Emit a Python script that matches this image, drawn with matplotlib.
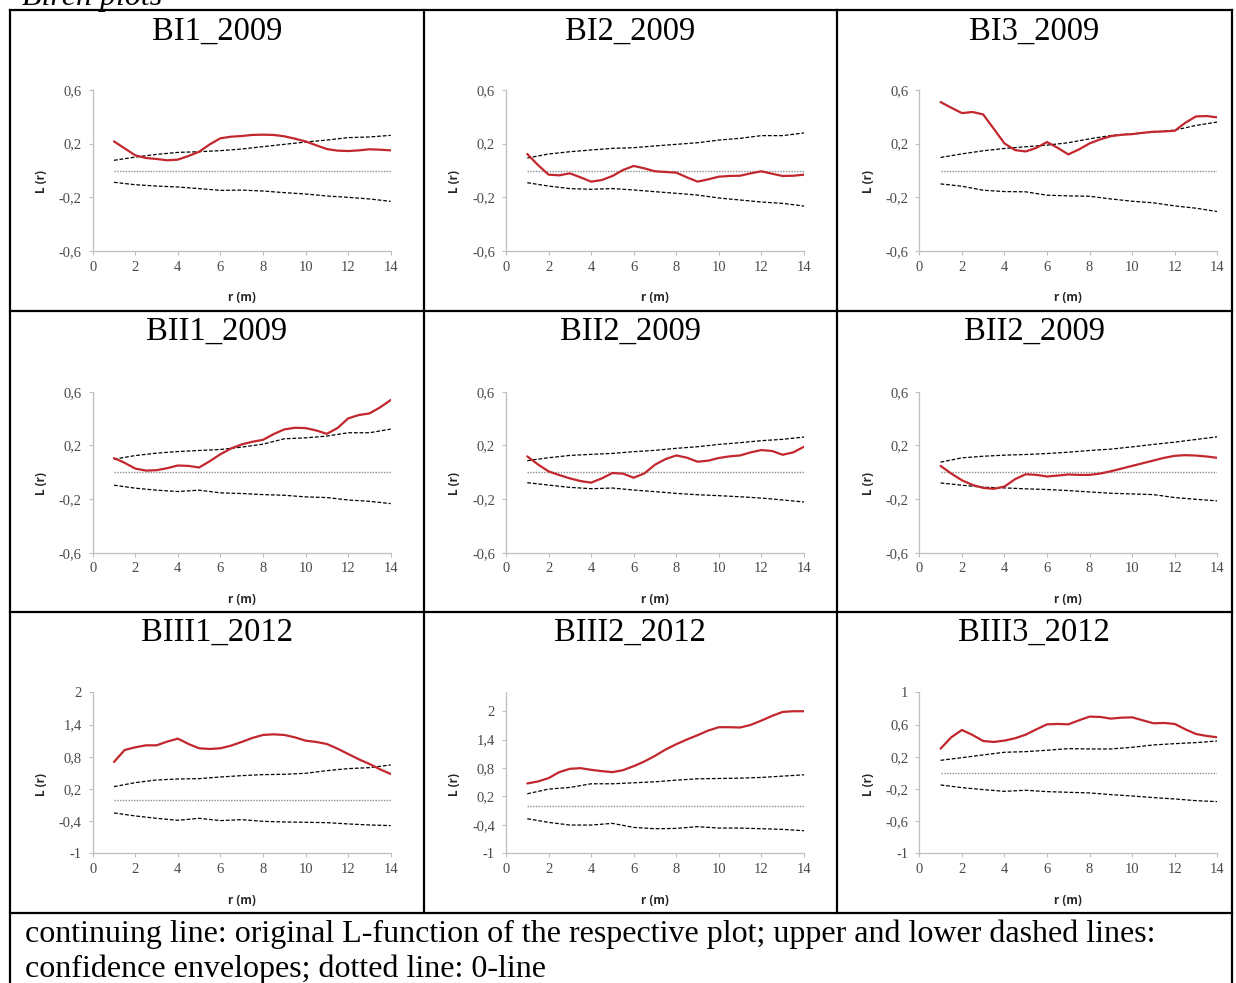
import numpy as np
import matplotlib.pyplot as plt
from matplotlib.ticker import FixedLocator, FuncFormatter

W, H = 1236, 983
DPI = 100

# distance steps of the L-function (m)
r_fine = np.arange(1, 14.5, 0.5)
r_env = np.arange(1, 15, 1)

titles = ["BI1_2009", "BI2_2009", "BI3_2009",
          "BII1_2009", "BII2_2009", "BII2_2009",
          "BIII1_2012", "BIII2_2012", "BIII3_2012"]

# observed L(r), 0.5 m steps
l_bi1 = [0.217, 0.165, 0.113, 0.093, 0.086, 0.076, 0.081, 0.108, 0.14, 0.195, 0.24, 0.252, 0.257, 0.265,
         0.267, 0.265, 0.255, 0.237, 0.217, 0.188, 0.16, 0.148, 0.145, 0.15, 0.158, 0.155, 0.15]
l_bi2 = [0.123, 0.041, -0.031, -0.036, -0.021, -0.051, -0.083, -0.071, -0.041, 0.004, 0.034, 0.016, -0.006, -0.011,
         -0.016, -0.051, -0.083, -0.066, -0.046, -0.041, -0.039, -0.021, -0.006, -0.024, -0.041, -0.039, -0.031]
l_bi3 = [0.51, 0.468, 0.428, 0.436, 0.418, 0.311, 0.202, 0.152, 0.142, 0.169, 0.212, 0.169, 0.12, 0.157,
         0.202, 0.232, 0.256, 0.266, 0.271, 0.281, 0.289, 0.291, 0.296, 0.356, 0.403, 0.406, 0.396]
l_bii1 = [0.105, 0.07, 0.027, 0.012, 0.015, 0.03, 0.05, 0.047, 0.035, 0.082, 0.134, 0.177, 0.207, 0.227,
          0.241, 0.284, 0.319, 0.331, 0.329, 0.311, 0.286, 0.329, 0.401, 0.426, 0.438, 0.483, 0.538]
l_bii2 = [0.118, 0.058, 0.006, -0.021, -0.046, -0.066, -0.078, -0.046, -0.006, -0.011, -0.041, -0.009, 0.056, 0.098,
          0.125, 0.108, 0.078, 0.086, 0.106, 0.118, 0.125, 0.148, 0.165, 0.158, 0.13, 0.148, 0.19]
l_bii2b = [0.047, -0.01, -0.06, -0.095, -0.117, -0.124, -0.107, -0.052, -0.015, -0.02, -0.032, -0.025, -0.017, -0.02,
           -0.02, -0.01, 0.007, 0.027, 0.047, 0.067, 0.087, 0.107, 0.122, 0.127, 0.124, 0.117, 0.107]
l_biii1 = [0.702, 0.925, 0.975, 1.012, 1.012, 1.081, 1.137, 1.037, 0.957, 0.944, 0.957, 1.006, 1.075, 1.149,
           1.205, 1.217, 1.205, 1.161, 1.099, 1.075, 1.037, 0.95, 0.851, 0.752, 0.665, 0.565, 0.478]
l_biii2 = [0.475, 0.517, 0.587, 0.714, 0.784, 0.798, 0.763, 0.735, 0.714, 0.756, 0.84, 0.939, 1.058, 1.192,
           1.304, 1.403, 1.494, 1.592, 1.663, 1.663, 1.656, 1.712, 1.803, 1.902, 1.986, 2.0, 2.0]
l_biii3 = [0.3, 0.441, 0.532, 0.47, 0.395, 0.383, 0.4, 0.429, 0.474, 0.54, 0.602, 0.607, 0.602, 0.652,
           0.698, 0.694, 0.673, 0.685, 0.689, 0.652, 0.615, 0.619, 0.607, 0.54, 0.482, 0.458, 0.441]

# upper confidence envelopes, 1 m steps
up_bi1 = [0.076, 0.1, 0.12, 0.135, 0.14, 0.148, 0.16, 0.178, 0.195, 0.212, 0.227, 0.245, 0.25, 0.262]
up_bi2 = [0.093, 0.123, 0.14, 0.153, 0.165, 0.17, 0.183, 0.195, 0.207, 0.227, 0.24, 0.26, 0.26, 0.28]
up_bi3 = [0.097, 0.124, 0.147, 0.164, 0.177, 0.189, 0.207, 0.236, 0.261, 0.274, 0.286, 0.301, 0.336, 0.361]
up_bii1 = [0.097, 0.124, 0.142, 0.154, 0.162, 0.169, 0.187, 0.209, 0.249, 0.256, 0.269, 0.294, 0.294, 0.321]
up_bii2 = [0.086, 0.108, 0.125, 0.133, 0.14, 0.153, 0.163, 0.178, 0.19, 0.207, 0.22, 0.235, 0.245, 0.262]
up_bii2b = [0.075, 0.107, 0.119, 0.127, 0.132, 0.139, 0.149, 0.162, 0.172, 0.189, 0.207, 0.224, 0.244, 0.264]
up_biii1 = [0.242, 0.317, 0.366, 0.385, 0.391, 0.422, 0.447, 0.466, 0.472, 0.491, 0.54, 0.578, 0.596, 0.646]
up_biii2 = [0.257, 0.356, 0.391, 0.468, 0.468, 0.489, 0.51, 0.545, 0.573, 0.58, 0.587, 0.602, 0.63, 0.658]
up_biii3 = [0.155, 0.188, 0.222, 0.255, 0.263, 0.28, 0.3, 0.296, 0.296, 0.317, 0.346, 0.362, 0.375, 0.395]

# lower confidence envelopes, 1 m steps
lo_bi1 = [-0.088, -0.106, -0.116, -0.123, -0.135, -0.148, -0.146, -0.153, -0.165, -0.175, -0.19, -0.2, -0.212, -0.23]
lo_bi2 = [-0.091, -0.116, -0.135, -0.14, -0.135, -0.145, -0.158, -0.17, -0.183, -0.205, -0.22, -0.235, -0.245, -0.265]
lo_bi3 = [-0.1, -0.117, -0.147, -0.157, -0.159, -0.184, -0.189, -0.192, -0.212, -0.229, -0.241, -0.264, -0.281, -0.306]
lo_bii1 = [-0.097, -0.119, -0.134, -0.144, -0.134, -0.154, -0.159, -0.167, -0.172, -0.184, -0.189, -0.207, -0.217, -0.234]
lo_bii2 = [-0.078, -0.096, -0.113, -0.123, -0.118, -0.133, -0.145, -0.158, -0.168, -0.175, -0.183, -0.193, -0.207, -0.222]
lo_bii2b = [-0.08, -0.097, -0.112, -0.117, -0.124, -0.129, -0.137, -0.147, -0.157, -0.162, -0.167, -0.189, -0.202, -0.214]
lo_biii1 = [-0.248, -0.304, -0.348, -0.385, -0.348, -0.391, -0.373, -0.404, -0.416, -0.422, -0.429, -0.453, -0.472, -0.484]
lo_biii2 = [-0.27, -0.347, -0.403, -0.403, -0.368, -0.453, -0.481, -0.474, -0.438, -0.467, -0.467, -0.481, -0.495, -0.523]
lo_biii3 = [-0.151, -0.184, -0.209, -0.23, -0.217, -0.234, -0.242, -0.25, -0.271, -0.288, -0.308, -0.325, -0.346, -0.358]

observed = [l_bi1, l_bi2, l_bi3, l_bii1, l_bii2, l_bii2b, l_biii1, l_biii2, l_biii3]
upper = [up_bi1, up_bi2, up_bi3, up_bii1, up_bii2, up_bii2b, up_biii1, up_biii2, up_biii3]
lower = [lo_bi1, lo_bi2, lo_bi3, lo_bii1, lo_bii2, lo_bii2b, lo_biii1, lo_biii2, lo_biii3]

x_ticks = [0, 2, 4, 6, 8, 10, 12, 14]
y_ticks_09 = [-0.6, -0.2, 0.2, 0.6]
y_ticks = [y_ticks_09] * 6 + [[-1, -0.4, 0.2, 0.8, 1.4, 2],
                              [-1, -0.4, 0.2, 0.8, 1.4, 2],
                              [-1, -0.6, -0.2, 0.2, 0.6, 1]]
y_lims = [(-0.6, 0.6)] * 6 + [(-1, 2), (-1, 2.4), (-1, 1)]

caption = ["continuing line: original L-function of the respective plot; upper and lower dashed lines:",
           "confidence envelopes; dotted line: 0-line"]

# table geometry (pixels)
col_edges = [10, 424, 836.5, 1232]
row_edges = [10, 310.5, 611.5, 912.5]
axes_left = [92.7, 506, 919.3]
axes_top = [90, 391.7, 692.3]
axes_w, axes_h = 298, 161

RED = "#c1272d"
AXIS_GREY = "#bfbfbf"
TICK_TXT = "#4a4a4a"
serif = "Liberation Serif"


def comma_fmt(v, pos):
    s = f"{v:g}"
    return s.replace(".", ",")


fig = plt.figure(figsize=(W / DPI, H / DPI), dpi=DPI)

bg = fig.add_axes([0, 0, 1, 1], zorder=0)
bg.set_xlim(0, W)
bg.set_ylim(H, 0)
bg.axis("off")

# table borders
for y in row_edges:
    bg.plot([col_edges[0], col_edges[-1]], [y, y], color="black", lw=1.6, solid_capstyle="projecting")
for x in col_edges[1:-1]:
    bg.plot([x, x], [row_edges[0], row_edges[-1]], color="black", lw=1.6)
for x in (col_edges[0], col_edges[-1]):
    bg.plot([x, x], [row_edges[0], H + 5], color="black", lw=1.6)

# heading above the table, partly running off the top edge
bg.text(22, 5, "Birch plots", fontsize=23, family=serif, style="italic", va="baseline", ha="left")

for text, y in zip(caption, [942, 977]):
    bg.text(25, y, text, fontsize=23, family=serif, va="baseline", ha="left")

for i in range(9):
    row, col = divmod(i, 3)
    cx = (col_edges[col] + col_edges[col + 1]) / 2
    bg.text(cx, row_edges[row] + 29.5, titles[i], fontsize=23.5, family=serif,
            ha="center", va="baseline")

    left = axes_left[col]
    top = axes_top[row]
    ax = fig.add_axes([left / W, 1 - (top + axes_h) / H, axes_w / W, axes_h / H], zorder=1)
    ax.patch.set_alpha(0)

    ax.plot(r_env, np.zeros_like(r_env, dtype=float), color="#8c8c8c", lw=1.0, ls=(0, (1, 1)))
    ax.plot(r_env, upper[i], color="black", lw=0.9, ls=(0, (3, 1.5)))
    ax.plot(r_env, lower[i], color="black", lw=0.9, ls=(0, (3, 1.5)))
    ax.plot(r_fine, observed[i], color=RED, lw=1.6, solid_capstyle="round", solid_joinstyle="round")

    ax.set_xlim(0, 14)
    ax.set_ylim(*y_lims[i])
    ax.xaxis.set_major_locator(FixedLocator(x_ticks))
    ax.yaxis.set_major_locator(FixedLocator(y_ticks[i]))
    ax.yaxis.set_major_formatter(FuncFormatter(comma_fmt))
    ax.xaxis.set_major_formatter(FuncFormatter(comma_fmt))

    for side in ("top", "right"):
        ax.spines[side].set_visible(False)
    for side in ("left", "bottom"):
        ax.spines[side].set_color(AXIS_GREY)
        ax.spines[side].set_linewidth(0.9)
    ax.tick_params(axis="both", direction="out", length=3, width=0.8, color=AXIS_GREY,
                   labelcolor=TICK_TXT, labelsize=10.5)
    ax.tick_params(axis="x", pad=4)
    ax.tick_params(axis="y", pad=5)
    for lbl in ax.get_xticklabels() + ax.get_yticklabels():
        lbl.set_family(serif)

    ax.set_xlabel("r (m)", fontsize=8.5, fontweight="bold", family="Open Sans", color="#262626")
    ax.set_ylabel("L (r)", fontsize=8.5, fontweight="bold", family="Open Sans", color="#262626")
    ax.xaxis.set_label_coords(0.5, -0.25)
    ax.yaxis.set_label_coords(-0.15, 0.43)

fig.savefig("out.png", dpi=DPI)
